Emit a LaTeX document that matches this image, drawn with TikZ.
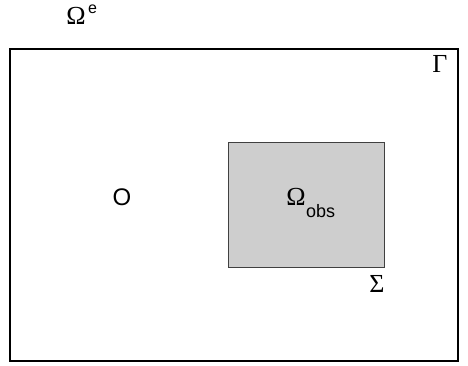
\documentclass[tikz,border=0pt]{standalone}
\usepackage{fontspec}
\setmainfont{Liberation Serif}
\newfontfamily\sansf{Liberation Sans}
\definecolor{obsgrey}{RGB}{206,206,206}
\begin{document}
\begin{tikzpicture}[x=1pt,y=-1pt,
  lbl/.style={inner sep=0pt},
  serif/.style={font=\fontsize{26}{28}\selectfont},
  sans/.style={font=\sansf\fontsize{24}{26}\selectfont},
  subs/.style={font=\sansf\fontsize{18}{20}\selectfont},
  sups/.style={font=\sansf\fontsize{16}{18}\selectfont}]
\useasboundingbox (0,0) rectangle (468,366);
\node[draw=black,line width=1.3pt,minimum width=448pt,minimum height=312pt,inner sep=0pt] (dom) at (234,205) {};
\node[draw=black!75,fill=obsgrey,line width=1pt,minimum width=156pt,minimum height=124pt,inner sep=0pt] (obs) at (306,205) {};
\node[lbl,serif,anchor=base] (oe) at (76,25) {Ω};
\node[lbl,sups,anchor=base west] (oesup) at (88,13.5) {e};
\node[lbl,serif,anchor=center] (gam) at (440,64) {Γ};
\node[lbl,sans,anchor=center] (o) at (122,197) {O};
\node[lbl,serif,anchor=base] (om) at (296,205) {Ω};
\node[lbl,subs,anchor=base west] (omsub) at (306,217) {obs};
\node[lbl,serif,anchor=center] (sig) at (377,284) {Σ};
\end{tikzpicture}
\end{document}
